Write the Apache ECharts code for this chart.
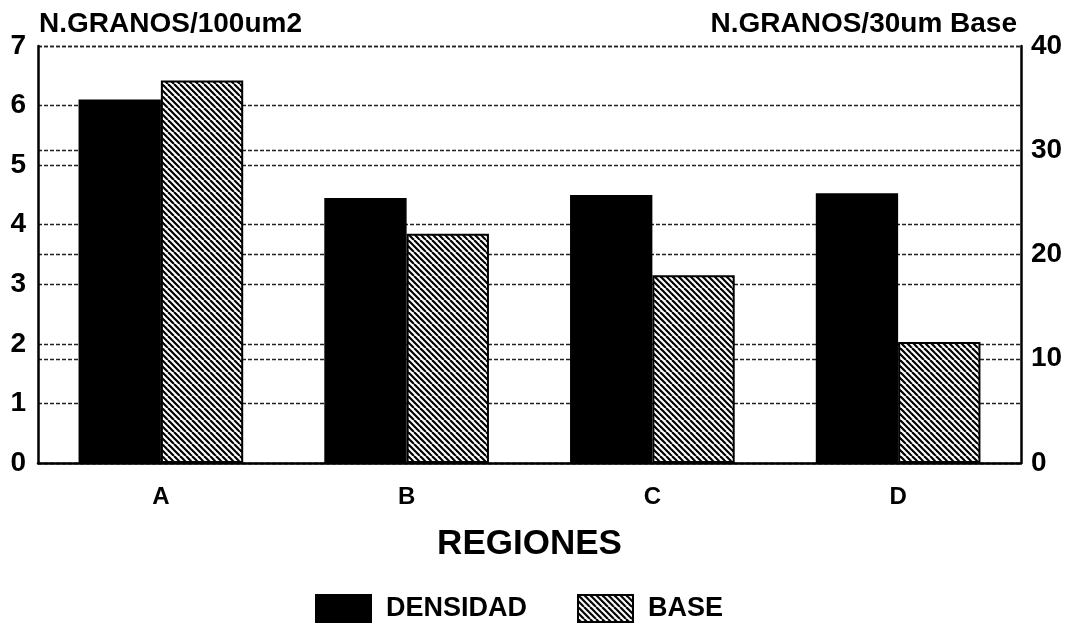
<!DOCTYPE html>
<html>
<head>
<meta charset="utf-8">
<script src="https://cdn.jsdelivr.net/npm/echarts@6/dist/echarts.min.js"></script>
<style>
html, body { margin: 0; padding: 0; background: #fff; }
#chart { width: 1074px; height: 635px; }
</style>
</head>
<body>
<div id="chart"></div>
<script>
var regiones = ['A', 'B', 'C', 'D'];
var densidad = [6.1, 4.45, 4.5, 4.53];
var base = [36.7, 22.0, 18.0, 11.6];

var leftTicks = { min: 0, max: 7, interval: 1 };
var rightTicks = { min: 0, max: 40, interval: 10 };

// trama diagonal para la serie BASE
function makeHatch() {
	var c = document.createElement('canvas');
	c.width = 12;
	c.height = 12;
	var ctx = c.getContext('2d');
	ctx.fillStyle = '#fff';
	ctx.fillRect(0, 0, 12, 12);
	ctx.strokeStyle = '#000';
	ctx.lineWidth = 2.2;
	for (var k = -12; k <= 12; k += 6) {
		ctx.beginPath();
		ctx.moveTo(k, 0);
		ctx.lineTo(k + 12, 12);
		ctx.stroke();
	}
	return c;
}

var fontFam = '"Liberation Sans", Arial, sans-serif';
var gridLine = { show: true, lineStyle: { color: '#222', width: 1.4, type: [4, 2] } };

var chart = echarts.init(document.getElementById('chart'));
chart.setOption({
	animation: false,
	backgroundColor: '#fff',
	textStyle: { fontFamily: fontFam, color: '#000' },
	title: [ {
		text: 'N.GRANOS/100um2',
		left: 34,
		top: 5,
		textStyle: { fontSize: 28, fontWeight: 'bold', fontFamily: fontFam, color: '#000' }
	}, {
		text: 'N.GRANOS/30um Base',
		right: 52,
		top: 5,
		textStyle: { fontSize: 28, fontWeight: 'bold', fontFamily: fontFam, color: '#000' }
	} ],
	legend: {
		bottom: 7,
		left: 310,
		icon: 'rect',
		itemWidth: 55,
		itemHeight: 27,
		itemGap: 50,
		textStyle: { fontSize: 27, fontWeight: 'bold', fontFamily: fontFam, color: '#000', padding: [0, 0, 0, 10] },
		data: ['DENSIDAD', 'BASE']
	},
	grid: { left: 38, right: 53, top: 46, bottom: 172 },
	xAxis: {
		type: 'category',
		data: regiones,
		name: 'REGIONES',
		nameLocation: 'middle',
		nameGap: 64,
		nameTextStyle: { fontSize: 35, fontWeight: 'bold', fontFamily: fontFam, color: '#000' },
		axisLine: { lineStyle: { color: '#000', width: 2.5 } },
		axisTick: { show: false },
		axisLabel: { margin: 22, fontSize: 24, fontWeight: 'bold', fontFamily: fontFam, color: '#000' }
	},
	yAxis: [ {
		type: 'value',
		min: leftTicks.min,
		max: leftTicks.max,
		interval: leftTicks.interval,
		position: 'left',
		axisLine: { show: true, lineStyle: { color: '#000', width: 2.5 } },
		axisTick: { show: false },
		axisLabel: { margin: 12, fontSize: 28, fontWeight: 'bold', fontFamily: fontFam, color: '#000' },
		splitLine: gridLine
	}, {
		type: 'value',
		min: rightTicks.min,
		max: rightTicks.max,
		interval: rightTicks.interval,
		position: 'right',
		axisLine: { show: true, lineStyle: { color: '#000', width: 2.5 } },
		axisTick: { show: false },
		axisLabel: { margin: 10, fontSize: 28, fontWeight: 'bold', fontFamily: fontFam, color: '#000' },
		splitLine: gridLine
	} ],
	series: [ {
		name: 'DENSIDAD',
		type: 'bar',
		yAxisIndex: 0,
		data: densidad,
		barGap: '0%',
		barCategoryGap: '33%',
		itemStyle: { color: '#000', borderColor: '#000', borderWidth: 1.5 }
	}, {
		name: 'BASE',
		type: 'bar',
		yAxisIndex: 1,
		data: base,
		itemStyle: {
			color: { image: makeHatch(), repeat: 'repeat' },
			borderColor: '#000',
			borderWidth: 2
		}
	} ]
});
</script>
</body>
</html>
